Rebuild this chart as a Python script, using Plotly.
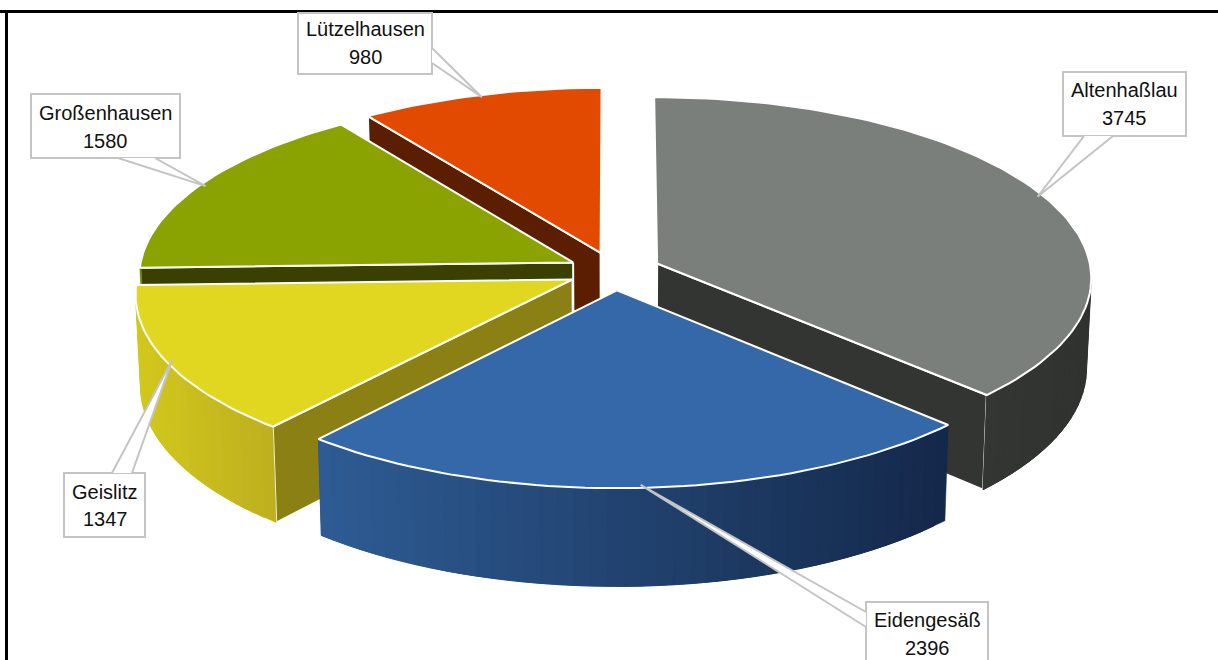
import math
import plotly.graph_objects as go

# --- data ---
categories = ["Altenhaßlau", "Eidengesäß", "Geislitz", "Großenhausen", "Lützelhausen"]
values = [3745, 2396, 1347, 1580, 980]

# --- styles ---
top_colors = ["#7A7F7C", "#3568A9", "#E2D720", "#8AA300", "#E14A00"]
radial_colors = ["#333533", None, "#8A8013", "#3A4000", "#5C1E00"]
wall_left = [(52, 54, 52), (46, 92, 148), (210, 200, 28), (120, 140, 0), (90, 30, 0)]
wall_right = [(48, 50, 48), (20, 40, 74), (190, 175, 32), (110, 130, 0), (90, 30, 0)]
# centre and scale of the projected disc
CX, CY, A, B, K, PULL, DEPTH = 614.5, 271, 434, 180, 0.075, 0.107, 90
# label boxes: x0, x1, y0, y1, text centre, first line y, second line y, callout foot points
boxes = {
    "Altenhaßlau": (1063, 1186, 72, 136, 1124, 90, 118, [(1084, 136), (1113, 136)]),
    "Eidengesäß": (866, 988, 602, 668, 927, 620, 648, [(866, 612), (866, 627)]),
    "Geislitz": (64, 145, 473, 537, 105, 492, 519, [(112, 473), (132, 473)]),
    "Großenhausen": (31, 180, 94, 158, 105, 113, 141, [(118, 158), (155, 158)]),
    "Lützelhausen": (298, 432, 13, 74, 365, 29, 57, [(432, 48), (432, 63)]),
}

total = sum(values)
spans = []
cum = 0.0
for v in values:
    spans.append((cum, cum + 360.0 * v / total))
    cum = spans[-1][1]


def proj(theta, r, mid, low=False):
    t, m = math.radians(theta), math.radians(mid)
    X = PULL * math.sin(m) + r * math.sin(t)
    Y = PULL * math.cos(m) + r * math.cos(t)
    w = 1 + K * Y
    x, y = A * X / w, B * Y / w
    if low:
        return CX + 0.99 * x, CY - y + DEPTH / w
    return CX + x, CY - y


def arc(a0, a1, mid, low=False, n=None):
    n = n or max(2, int(abs(a1 - a0) / 1.5))
    return [proj(a0 + (a1 - a0) * i / n, 1, mid, low) for i in range(n + 1)]


fig = go.Figure()


def poly(points, fill, line=None, width=2):
    xs = [p[0] for p in points] + [points[0][0]]
    ys = [p[1] for p in points] + [points[0][1]]
    fig.add_trace(go.Scatter(
        x=xs, y=ys, mode="lines", fill="toself", fillcolor=fill,
        line=dict(color=line or fill, width=width if line else 0.5),
        hoverinfo="skip", showlegend=False))


def draw_slice(i, radial_theta=None):
    a0, a1 = spans[i]
    mid = (a0 + a1) / 2
    # radial side wall
    if radial_theta is not None:
        poly([proj(0, 0, mid), proj(radial_theta, 1, mid),
              proj(radial_theta, 1, mid, True), proj(0, 0, mid, True)],
             radial_colors[i], "#FFFFFF")
    # outer wall, only the part that faces the viewer, in overlapping strips for the shading
    s0, s1 = max(a0, 90), min(a1, 270)
    if s1 > s0:
        n = max(2, int((s1 - s0) / 2))
        pts = arc(s0, s1, mid, n=n)
        low = arc(s0, s1, mid, True, n=n)
        xmin, xmax = min(p[0] for p in pts), max(p[0] for p in pts)
        for j in range(n):
            f = ((pts[j][0] + pts[j + 1][0]) / 2 - xmin) / max(1, xmax - xmin)
            c = [round(wall_left[i][k] + (wall_right[i][k] - wall_left[i][k]) * f) for k in range(3)]
            e = min(j + 3, n)
            poly(pts[j:e + 1] + low[j:e + 1][::-1], f"rgb({c[0]},{c[1]},{c[2]})")
    # top face
    poly([proj(0, 0, mid)] + arc(a0, a1, mid), top_colors[i], "#FFFFFF")


# painter's order, back to front
draw_slice(4, spans[4][0])
draw_slice(3, spans[3][0])
draw_slice(0, spans[0][1])
draw_slice(2, spans[2][0])
draw_slice(1)

shapes = [
    dict(type="line", xref="x", yref="y", x0=0, x1=1218, y0=11.5, y1=11.5, line=dict(color="#000", width=3)),
    dict(type="line", xref="x", yref="y", x0=6.5, x1=6.5, y0=10, y1=660, line=dict(color="#000", width=3)),
]
annotations = []
GREY = "#C4C4C4"
for i, name in enumerate(categories):
    x0, x1, y0, y1, tx, ty1, ty2, feet = boxes[name]
    mid = sum(spans[i]) / 2
    ax, ay = proj(mid, 0.985, mid)
    shapes.append(dict(type="rect", xref="x", yref="y", x0=x0, x1=x1, y0=y0, y1=y1,
                       fillcolor="#FFFFFF", line=dict(color=GREY, width=2), layer="above"))
    (f0x, f0y), (f1x, f1y) = feet
    shapes.append(dict(type="path", xref="x", yref="y",
                       path=f"M{f0x},{f0y} L{ax},{ay} L{f1x},{f1y} Z",
                       fillcolor="#FFFFFF", line=dict(width=0), layer="above"))
    shapes.append(dict(type="path", xref="x", yref="y",
                       path=f"M{f0x},{f0y} L{ax},{ay} L{f1x},{f1y}",
                       line=dict(color=GREY, width=2), layer="above"))
    for ty, txt in ((ty1, name), (ty2, str(values[i]))):
        annotations.append(dict(x=tx, y=ty, xref="x", yref="y", text=txt, showarrow=False,
                                font=dict(family="Liberation Sans", size=20, color="#111111"),
                                xanchor="center", yanchor="middle"))

fig.update_layout(
    width=1218, height=660, margin=dict(l=0, r=0, t=0, b=0),
    paper_bgcolor="#FFFFFF", plot_bgcolor="#FFFFFF", showlegend=False,
    xaxis=dict(range=[0, 1218], visible=False, fixedrange=True),
    yaxis=dict(range=[660, 0], visible=False, fixedrange=True),
    shapes=shapes, annotations=annotations,
)
fig.write_html("out.html", config=dict(displayModeBar=False),
               post_script="document.body.style.margin='0';document.body.style.overflow='hidden';")
